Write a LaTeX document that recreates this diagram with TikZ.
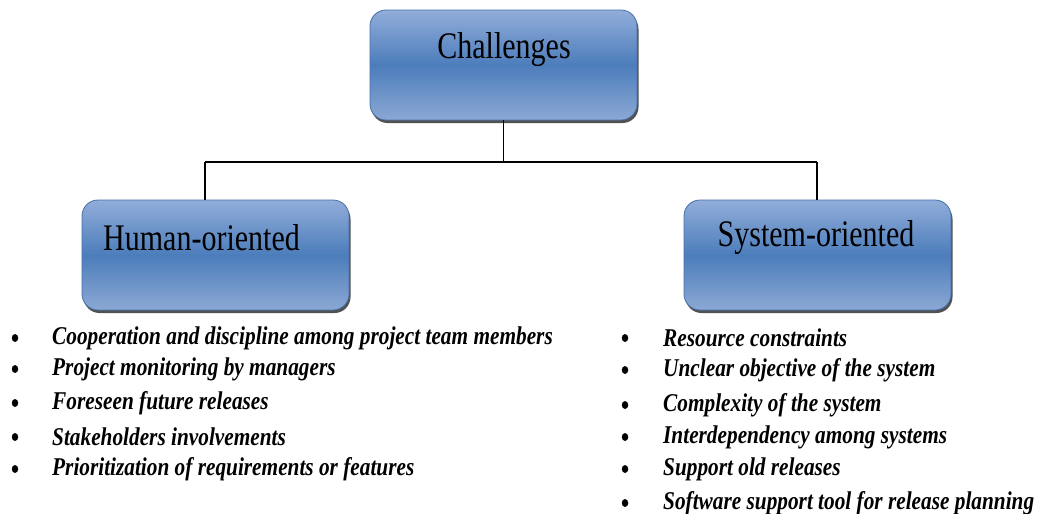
\documentclass[tikz,border=0pt]{standalone}
\usepackage{fontspec}
\setmainfont{Liberation Serif}
\usetikzlibrary{shadows,shapes.geometric}
\definecolor{boxtop}{RGB}{146,173,217}
\definecolor{boxmid}{RGB}{76,125,187}
\definecolor{boxbot}{RGB}{140,168,212}
\definecolor{boxline}{RGB}{70,112,172}
\newcommand{\tallhead}[1]{\scalebox{1}[1.25]{#1}}
\newcommand{\tallitem}[1]{\scalebox{1}[1.2]{#1}}
\tikzset{
  box/.style={rectangle, rounded corners=16pt, draw=boxline, line width=0.8pt,
    top color=boxtop, bottom color=boxbot, middle color=boxmid,
    minimum width=267pt, minimum height=110pt, inner sep=0pt,
    drop shadow={shadow xshift=1.5pt, shadow yshift=-3pt, fill=black!80, opacity=0.85}},
  head/.style={font=\fontsize{30}{30}\selectfont, text=black, inner sep=0pt},
  item/.style={font=\fontsize{21.3}{22}\selectfont\bfseries\itshape, text=black, anchor=west, inner sep=0pt},
  dot/.style={ellipse, fill=black, minimum width=6.5pt, minimum height=8pt, inner sep=0pt},
  conn/.style={line width=1.2pt, black}
}
\begin{document}
\begin{tikzpicture}[x=1pt,y=-1pt]
\useasboundingbox[fill=white] (0,0) rectangle (1037,514);
\node[box] (ch) at (503.5,65) {};
\node[box] (ho) at (215.5,255) {};
\node[box] (so) at (817.5,255) {};
\node[head] (cht) at (504,50) {\tallhead{Challenges}};
\node[head, anchor=west] (hot) at (103,238) {\tallhead{Human-oriented}};
\node[head] (sot) at (816,238) {\tallhead{System-oriented}};
\coordinate (jl) at (205,162);
\coordinate (jr) at (817,162);
\draw[conn] (ch.south) -- (ch.south |- jl);
\draw[conn] (jl) -- (jr);
\draw[conn] (jl) -- (jl |- ho.north);
\draw[conn] (jr) -- (jr |- so.north);
% left list
\node[dot] (hb1) at (15,338) {};
\node[dot] (hb2) at (15,369) {};
\node[dot] (hb3) at (15,403) {};
\node[dot] (hb4) at (15,437) {};
\node[dot] (hb5) at (15,469) {};
\node[item] (h1) at (52,338) {\tallitem{Cooperation and discipline among project team members}};
\node[item] (h2) at (52,369) {\tallitem{Project monitoring by managers}};
\node[item] (h3) at (52,403) {\tallitem{Foreseen future releases}};
\node[item] (h4) at (52,437) {\tallitem{Stakeholders involvements}};
\node[item] (h5) at (52,469) {\tallitem{Prioritization of requirements or features}};
% right list
\node[dot] (sb1) at (625,338) {};
\node[dot] (sb2) at (625,370) {};
\node[dot] (sb3) at (625,405) {};
\node[dot] (sb4) at (625,437) {};
\node[dot] (sb5) at (625,469) {};
\node[dot] (sb6) at (625,503) {};
\node[item] (s1) at (663,338) {\tallitem{Resource constraints}};
\node[item] (s2) at (663,370) {\tallitem{Unclear objective of the system}};
\node[item] (s3) at (663,405) {\tallitem{Complexity of the system}};
\node[item] (s4) at (663,437) {\tallitem{Interdependency among systems}};
\node[item] (s5) at (663,469) {\tallitem{Support old releases}};
\node[item] (s6) at (663,503) {\tallitem{Software support tool for release planning}};
\end{tikzpicture}
\end{document}
